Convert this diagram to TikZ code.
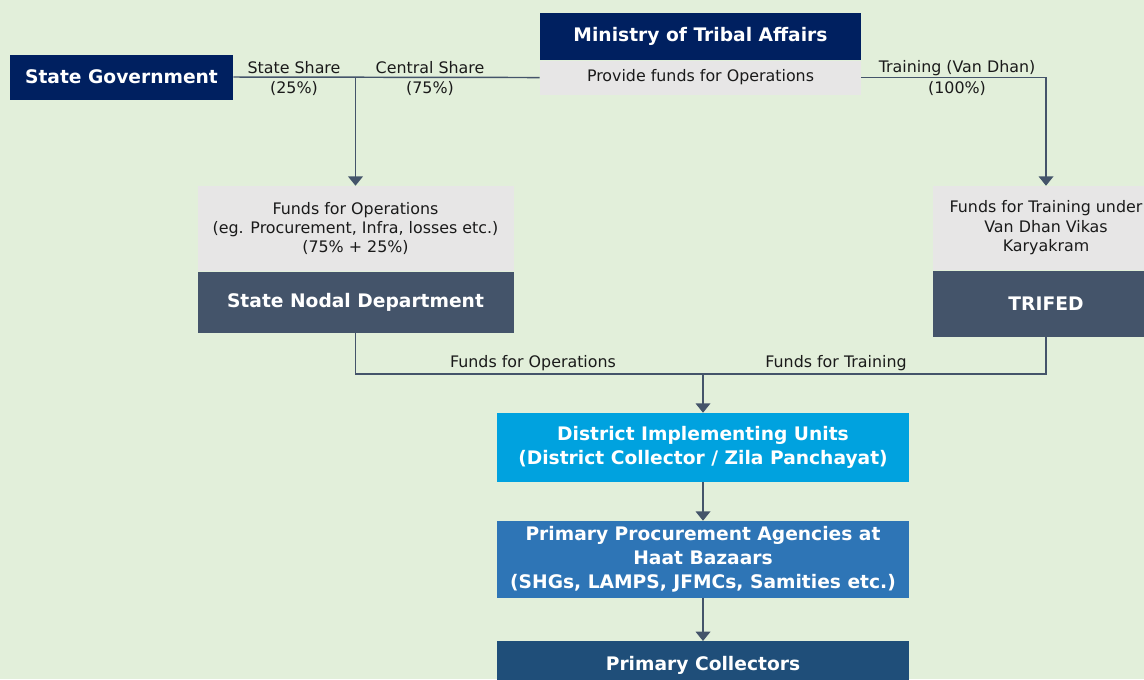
\documentclass[tikz,border=0pt]{standalone}
\usepackage{fontspec}
\setmainfont{DejaVu Sans}
\usetikzlibrary{arrows.meta}
\definecolor{bgc}{HTML}{E2EFDA}
\definecolor{navy}{HTML}{002060}
\definecolor{lgray}{HTML}{E7E6E6}
\definecolor{slate}{HTML}{44546A}
\definecolor{diuc}{HTML}{00A2DF}
\definecolor{ppac}{HTML}{2E75B6}
\definecolor{pcc}{HTML}{1F4E79}
\definecolor{txt}{HTML}{1A1A1A}
\tikzset{
  boldbox/.style={rectangle, inner sep=0pt, text=white, align=center,
    font=\fontsize{14}{18}\selectfont\bfseries},
  graybox/.style={rectangle, inner sep=0pt, fill=lgray, text=txt, align=center,
    font=\fontsize{11.9}{14.6}\selectfont},
  lbl/.style={inner sep=0pt, text=txt, font=\fontsize{11.9}{14.6}\selectfont},
  conn/.style={draw=slate, line width=1.1pt},
  arr/.style={conn, -{Triangle[width=11pt,length=7pt]}}
}
\begin{document}
\begin{tikzpicture}[x=0.75pt,y=-0.75pt]
\fill[bgc] (0,0) rectangle (1144,679);
\useasboundingbox (0,0) rectangle (1144,679);
\clip (0,0) rectangle (1144,679);

% top row
\node[boldbox, fill=navy, minimum width=167.25pt, minimum height=33.75pt] (sg) at (121.5,77) {State Government};
\node[boldbox, fill=navy, minimum width=240.75pt, minimum height=35.25pt] (mta) at (700.5,36.5) {Ministry of Tribal Affairs};
\node[graybox, minimum width=240.75pt, minimum height=25.5pt, anchor=north] (mtas) at (mta.south) {Provide funds for Operations};

% state nodal
\node[graybox, minimum width=237pt, minimum height=63.75pt] (lg) at (355.5,228.5) {Funds for Operations\\(eg. Procurement, Infra, losses etc.)\\(75\% + 25\%)};
\node[boldbox, fill=slate, minimum width=237pt, minimum height=45.75pt, anchor=north] (ld) at (lg.south) {State Nodal Department};

% trifed
\node[graybox, minimum width=169.5pt, minimum height=63pt] (rg) at (1046,228) {Funds for Training under\\Van Dhan Vikas\\Karyakram};
\node[boldbox, fill=slate, minimum width=169.5pt, minimum height=49.5pt, anchor=north] (rd) at (rg.south) {TRIFED};

% lower chain
\node[boldbox, fill=diuc, minimum width=309pt, minimum height=51.75pt] (diu) at (703,447.5) {District Implementing Units\\(District Collector / Zila Panchayat)};
\node[boldbox, fill=ppac, minimum width=309pt, minimum height=57.75pt] (ppa) at (703,559.5) {Primary Procurement Agencies at\\Haat Bazaars\\(SHGs, LAMPS, JFMCs, Samities etc.)};
\node[boldbox, fill=pcc, minimum width=309pt, minimum height=36pt, anchor=north] (pc) at (703,641) {Primary Collectors};

% connectors
\coordinate (j1) at (lg.north |- mtas.west);
\coordinate (j2) at (703,374);
\draw[conn] (sg.east) -- (mtas.west);
\draw[arr] (j1) -- (lg.north);
\draw[arr] (mtas.east) -| (rg.north);
\draw[conn] (ld.south) |- (j2);
\draw[conn] (rd.south) |- (j2);
\draw[arr] (j2) -- (diu.north);
\draw[arr] (diu.south) -- (ppa.north);
\draw[arr] (ppa.south) -- (pc.north);

% labels
\node[lbl] (l1a) at (294,68) {State Share};
\node[lbl] (l1b) at (294,89) {(25\%)};
\node[lbl] (l2a) at (430,68) {Central Share};
\node[lbl] (l2b) at (430,89) {(75\%)};
\node[lbl] (l3a) at (957,68) {Training (Van Dhan)};
\node[lbl] (l3b) at (957,89) {(100\%)};
\node[lbl] (l4) at (533,363) {Funds for Operations};
\node[lbl] (l5) at (836,363) {Funds for Training};
\end{tikzpicture}
\end{document}
